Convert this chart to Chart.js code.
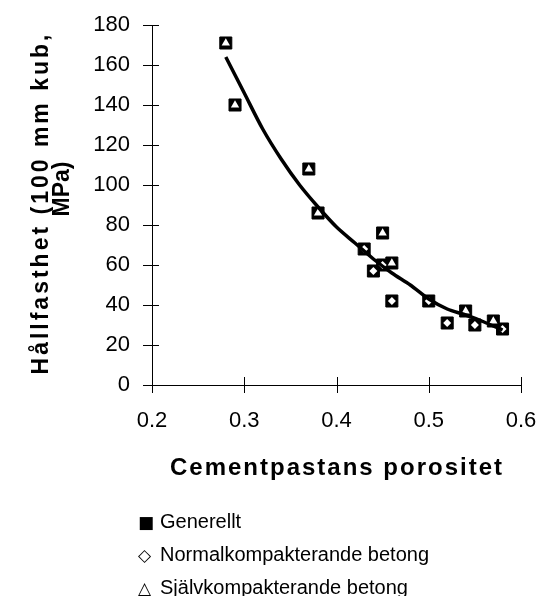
<!DOCTYPE html>
<html>
<head>
<meta charset="utf-8">
<script src="https://cdn.jsdelivr.net/npm/chart.js@4.4.1/dist/chart.umd.min.js"></script>
<style>
  body { margin: 0; background: #fff; }
  #wrap { position: relative; width: 542px; height: 596px; }
  #legend {
    position: absolute; left: 138px; top: 505px;
    font: 20px "Liberation Sans", Arial, sans-serif; color: #000;
    line-height: 32px;
  }
  #legend .sym { display: inline-block; width: 22px; font-family: "DejaVu Sans"; font-size: 17px; }
</style>
</head>
<body>
<div id="wrap">
  <canvas id="myChart" width="542" height="596"></canvas>
  <div id="legend"></div>
</div>
<script>
// data
var seriesNames = ['Generellt', 'Normalkompakterande betong', 'Självkompakterande betong'];
var legendSymbols = ['\u25A0', '\u25C7', '\u25B3'];

var normalX = [0.43, 0.44, 0.45, 0.46, 0.50, 0.52, 0.55, 0.58];
var normalY = [68, 57, 60, 42, 42, 31, 30, 28];

var selfX = [0.28, 0.29, 0.37, 0.38, 0.45, 0.46, 0.54, 0.57];
var selfY = [171, 140, 108, 86, 76, 61, 37, 32];

// trend curve
var fitX = [0.28, 0.30, 0.32, 0.34, 0.36, 0.38, 0.40, 0.42, 0.44, 0.46, 0.48, 0.50, 0.52, 0.54, 0.56, 0.58];
var fitY = [164, 146, 128, 113, 100, 89, 79, 71, 63, 56, 50, 43, 38, 35, 31.5, 27.5];

var xTickLabels = ['0.2', '0.3', '0.4', '0.5', '0.6'];
var yTickLabels = ['0', '20', '40', '60', '80', '100', '120', '140', '160', '180'];

var xTitle = 'Cementpastans porositet';
var yTitle = ['Hållfasthet (100 mm kub,', 'MPa)'];

function toPoints(xs, ys) {
    return xs.map(function(x, i) { return {x: x, y: ys[i]}; });
}

// draws ticks crossing the axes and the axis titles
var extrasPlugin = {
    id: 'extras',
    afterDraw: function(chart) {
        var ctx = chart.ctx;
        var xs = chart.scales.x, ys = chart.scales.y;
        var area = chart.chartArea;
        ctx.save();
        ctx.strokeStyle = '#000';
        ctx.lineWidth = 1;
        ctx.beginPath();
        xs.ticks.forEach(function(t, i) {
            var px = Math.round(xs.getPixelForTick(i)) + 0.5;
            ctx.moveTo(px, area.bottom - 8);
            ctx.lineTo(px, area.bottom + 8);
        });
        ys.ticks.forEach(function(t, i) {
            var py = Math.round(ys.getPixelForTick(i)) + 0.5;
            ctx.moveTo(area.left - 9, py);
            ctx.lineTo(area.left + 7, py);
        });
        ctx.stroke();

        ctx.fillStyle = '#000';
        ctx.font = 'bold 24px "Liberation Sans", Arial, sans-serif';
        ctx.letterSpacing = '2px';
        ctx.textAlign = 'center';
        ctx.textBaseline = 'alphabetic';
        ctx.fillText(xTitle, 337, 475);

        ctx.font = 'bold 23px "Liberation Sans", Arial, sans-serif';
        ctx.textBaseline = 'middle';
        ctx.translate(42, 203);
        ctx.rotate(-Math.PI / 2);
        ctx.letterSpacing = '3px';
        ctx.fillText(yTitle[0], 0, 0);
        ctx.letterSpacing = '0px';
        ctx.fillText(yTitle[1], 14, 21);
        ctx.restore();
    }
};

(function() {
    var tickFont = {family: '"Liberation Sans", Arial, sans-serif', size: 22};
    // invisible tick marks push the labels away from the axis
    var hiddenGrid = function(len) {
        return { display: true, drawOnChartArea: false, drawTicks: true, tickLength: len, tickColor: 'rgba(0,0,0,0)' };
    };

    var ctx = document.getElementById('myChart').getContext('2d');
    var myChart = new Chart(ctx, {
        type: 'scatter',
        data: {
            datasets: [{
                label: 'trend',
                data: toPoints(fitX, fitY),
                showLine: true,
                borderColor: '#000',
                borderWidth: 3.5,
                pointRadius: 0,
                tension: 0.3,
                order: 0
            }, {
                label: seriesNames[2],
                data: toPoints(selfX, selfY),
                pointStyle: 'triangle',
                pointRadius: 4.8,
                backgroundColor: '#fff',
                borderWidth: 0,
                order: 1
            }, {
                label: seriesNames[1],
                data: toPoints(normalX, normalY),
                pointStyle: 'rectRot',
                pointRadius: 4,
                backgroundColor: '#fff',
                borderWidth: 0,
                order: 1
            }, {
                label: seriesNames[0],
                data: toPoints(normalX.concat(selfX), normalY.concat(selfY)),
                pointStyle: 'rect',
                pointRadius: 8.5,
                backgroundColor: '#000',
                borderColor: '#000',
                borderWidth: 1,
                order: 2
            }]
        },
        options: {
            responsive: false,
            animation: false,
            layout: { padding: { top: 25, right: 21, left: 0, bottom: 0 } },
            plugins: {
                legend: { display: false },
                tooltip: { enabled: false }
            },
            scales: {
                x: {
                    min: 0.2, max: 0.6,
                    grid: hiddenGrid(23),
                    border: { display: true, color: '#000', width: 1 },
                    ticks: {
                        stepSize: 0.1, color: '#000', font: tickFont, padding: 0,
                        maxRotation: 0,
                        callback: function(v, i) { return xTickLabels[i]; }
                    },
                    afterFit: function(scale) { scale.height = 211; }
                },
                y: {
                    min: 0, max: 180,
                    grid: hiddenGrid(22),
                    border: { display: true, color: '#000', width: 1 },
                    ticks: {
                        stepSize: 20, color: '#000', font: tickFont, padding: 0,
                        callback: function(v, i) { return yTickLabels[i]; }
                    },
                    afterFit: function(scale) { scale.width = 152; }
                }
            }
        },
        plugins: [extrasPlugin]
    });

    var legend = document.getElementById('legend');
    seriesNames.forEach(function(name, i) {
        var row = document.createElement('div');
        var sym = document.createElement('span');
        sym.className = 'sym';
        sym.textContent = legendSymbols[i];
        row.appendChild(sym);
        row.appendChild(document.createTextNode(name));
        legend.appendChild(row);
    });
})();
</script>
</body>
</html>
